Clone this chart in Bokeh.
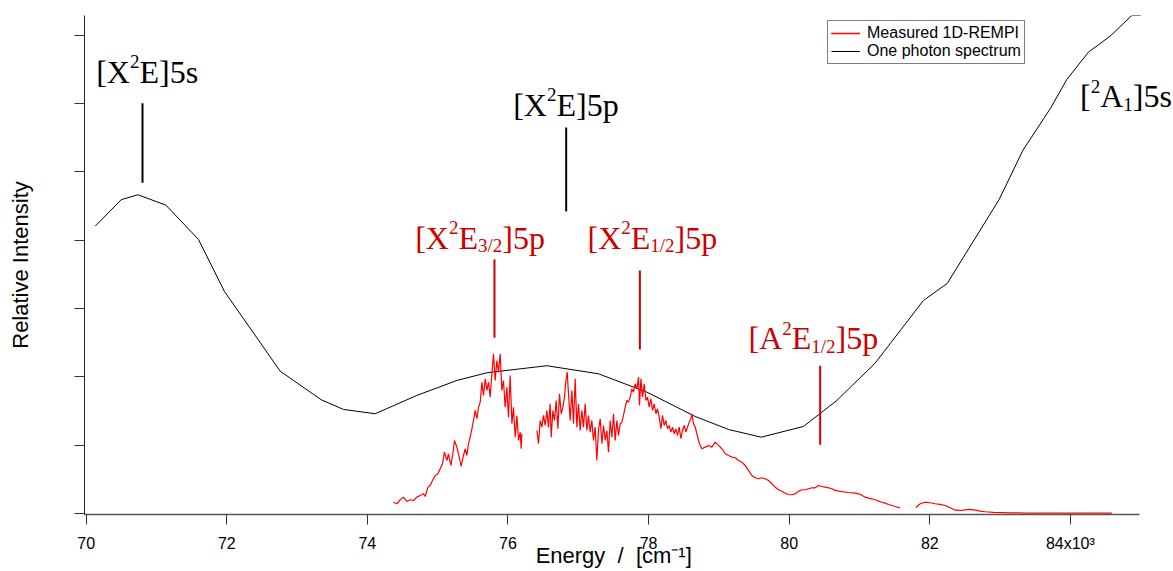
from bokeh.plotting import figure
from bokeh.models import Range1d, Label, Legend, LegendItem, FixedTicker, CustomJSTickFormatter
from bokeh.embed import file_html
from bokeh.resources import INLINE

# ---------------- data (energies in 10^3 cm^-1, intensity in arbitrary units) ----------------
photon_x = [70.128, 70.498, 70.735, 71.134, 71.597, 71.967, 72.760, 73.343, 73.660, 74.111,
            74.704, 75.273, 75.700, 76.553, 77.287, 77.976, 78.663, 79.137, 79.602, 80.203,
            80.678, 81.223, 81.910, 82.248, 82.987, 83.324, 83.722, 83.950, 84.257, 84.566,
            84.875, 85.000]
photon_y = [4.206, 4.593, 4.666, 4.514, 4.012, 3.250, 2.083, 1.665, 1.523, 1.460,
            1.728, 1.947, 2.060, 2.163, 2.045, 1.776, 1.420, 1.230, 1.117, 1.274,
            1.654, 2.201, 3.119, 3.367, 4.597, 5.315, 5.940, 6.354, 6.754, 6.988,
            7.291, 7.291]

rempi1_x = [74.371, 74.420, 74.467, 74.514, 74.562, 74.609, 74.656, 74.704, 74.751, 74.798,
            74.822, 74.861, 74.893, 74.926, 74.965, 75.003, 75.036, 75.068, 75.097, 75.131,
            75.154, 75.188, 75.216, 75.239, 75.273, 75.306, 75.334, 75.367, 75.391, 75.415,
            75.438, 75.462, 75.487, 75.509, 75.534, 75.558, 75.581, 75.605, 75.629, 75.652,
            75.676, 75.700, 75.723, 75.747, 75.771, 75.794, 75.818, 75.842, 75.865, 75.889,
            75.913, 75.936, 75.960, 75.984, 76.007, 76.031, 76.056, 76.078, 76.103, 76.127,
            76.150, 76.174, 76.188, 76.198]
rempi1_y = [0.165, 0.142, 0.201, 0.239, 0.176, 0.201, 0.190, 0.239, 0.264, 0.288,
            0.249, 0.385, 0.410, 0.483, 0.556, 0.581, 0.654, 0.728, 0.897, 0.776,
            0.874, 0.703, 0.874, 1.069, 0.971, 0.824, 0.688, 0.849, 0.947, 0.849,
            1.020, 1.117, 1.240, 1.362, 1.508, 1.387, 1.556, 1.630, 1.922, 1.728,
            1.972, 1.801, 1.922, 1.703, 2.045, 2.338, 1.947, 2.240, 2.069, 2.338,
            1.801, 1.947, 1.556, 1.849, 1.410, 2.020, 1.313, 1.556, 1.117, 1.435,
            1.069, 1.190, 0.947, 1.167]

rempi2_x = [76.411, 76.434, 76.458, 76.482, 76.505, 76.529, 76.553, 76.576, 76.600, 76.615,
            76.639, 76.662, 76.686, 76.710, 76.733, 76.757, 76.781, 76.804, 76.824, 76.842,
            76.861, 76.885, 76.909, 76.932, 76.956, 76.980, 77.003, 77.027, 77.051, 77.074,
            77.098, 77.122, 77.145, 77.169, 77.193, 77.216, 77.240, 77.264, 77.287, 77.312,
            77.336, 77.359, 77.383, 77.407, 77.430, 77.454, 77.478, 77.501, 77.525, 77.549,
            77.572, 77.596, 77.620, 77.643, 77.667, 77.691, 77.714, 77.738, 77.762, 77.785,
            77.809, 77.834, 77.857, 77.871, 77.891, 77.914, 77.938, 77.962, 77.985, 78.009,
            78.033, 78.056, 78.080, 78.104, 78.127, 78.151, 78.175, 78.198, 78.222, 78.246,
            78.269, 78.293, 78.317, 78.340, 78.364, 78.388, 78.411, 78.435, 78.460, 78.482,
            78.507, 78.531, 78.554, 78.578, 78.602, 78.616, 78.639, 78.663, 78.687, 78.724,
            78.758, 78.805, 78.852, 78.901, 78.947, 78.995, 79.043, 79.090, 79.137, 79.185,
            79.232, 79.279, 79.327, 79.374, 79.421, 79.469, 79.516, 79.563, 79.612, 79.659,
            79.706, 79.754, 79.801, 79.848, 79.896, 79.943, 79.990, 80.039, 80.086, 80.133,
            80.181, 80.228, 80.275, 80.323, 80.370, 80.417, 80.465, 80.512, 80.559, 80.608,
            80.655, 80.702, 80.750, 80.797, 80.844, 80.892, 80.939, 80.986, 81.034, 81.081,
            81.128, 81.177, 81.224, 81.271, 81.319, 81.366, 81.413, 81.461, 81.508, 81.579]
rempi2_y = [1.215, 1.020, 1.362, 1.264, 1.435, 1.288, 1.508, 1.264, 1.606, 1.117,
            1.508, 1.362, 1.654, 1.240, 1.753, 1.460, 1.556, 1.703, 1.947, 2.069,
            1.753, 1.362, 1.801, 1.313, 1.972, 1.264, 1.606, 1.215, 1.508, 1.264,
            1.606, 1.215, 1.435, 1.190, 1.362, 1.069, 1.264, 0.776, 1.215, 1.387,
            1.020, 1.288, 1.069, 1.215, 0.897, 1.362, 1.117, 1.460, 1.069, 1.362,
            1.142, 1.313, 1.337, 1.435, 1.556, 1.654, 1.630, 1.703, 1.826, 1.776,
            1.899, 1.826, 1.996, 1.581, 1.972, 1.703, 1.899, 1.654, 1.703, 1.556,
            1.679, 1.508, 1.606, 1.460, 1.533, 1.410, 1.240, 1.435, 1.288, 1.362,
            1.240, 1.288, 1.190, 1.264, 1.167, 1.240, 1.142, 1.264, 1.094, 1.215,
            1.288, 1.190, 1.264, 1.337, 1.387, 1.460, 1.313, 1.264, 1.167, 1.020,
            0.947, 0.971, 0.996, 0.971, 1.044, 0.996, 0.947, 0.874, 0.849, 0.824,
            0.816, 0.776, 0.751, 0.703, 0.630, 0.556, 0.523, 0.508, 0.523, 0.508,
            0.483, 0.435, 0.385, 0.347, 0.326, 0.297, 0.278, 0.274, 0.288, 0.326,
            0.347, 0.347, 0.362, 0.376, 0.376, 0.410, 0.395, 0.385, 0.376, 0.362,
            0.337, 0.326, 0.322, 0.312, 0.307, 0.303, 0.297, 0.288, 0.268, 0.239,
            0.224, 0.215, 0.201, 0.180, 0.165, 0.151, 0.132, 0.117, 0.102, 0.083]

rempi3_x = [81.802, 81.864, 81.935, 82.006, 82.077, 82.148, 82.219, 82.291, 82.362, 82.433,
            82.504, 82.575, 82.646, 82.717, 82.788, 82.906, 83.144, 83.381, 83.618, 83.855,
            84.093, 84.329, 84.591]
rempi3_y = [0.088, 0.142, 0.165, 0.157, 0.142, 0.132, 0.117, 0.083, 0.048, 0.044,
            0.054, 0.059, 0.048, 0.034, 0.025, 0.015, 0.010, 0.006, 0.006, 0.005,
            0.004, 0.004, 0.004]

# assignment markers
marker_x = [70.801, 76.828, 75.808, 77.876, 80.441]
marker_y0 = [4.842, 4.422, 2.573, 2.401, 1.006]
marker_y1 = [6.007, 5.652, 3.719, 3.558, 2.163]
marker_color = ["#000000", "#000000", "#cc0000", "#cc0000", "#cc0000"]

# assignment labels: anchor (left, baseline) and pieces
label_x = [70.142, 76.074, 84.137, 74.680, 77.131, 79.421]
label_y = [6.310, 5.827, 5.950, 3.880, 3.880, 2.411]
label_color = ["#000000", "#000000", "#000000", "#cc0000", "#cc0000", "#cc0000"]
label_parts = [
    [("[X", "n"), ("2", "sup"), ("E]5s", "n")],
    [("[X", "n"), ("2", "sup"), ("E]5p", "n")],
    [("[", "n"), ("2", "sup"), ("A", "n"), ("1", "sub"), ("]5s", "n")],
    [("[X", "n"), ("2", "sup"), ("E", "n"), ("3/2", "sub"), ("]5p", "n")],
    [("[X", "n"), ("2", "sup"), ("E", "n"), ("1/2", "sub"), ("]5p", "n")],
    [("[A", "n"), ("2", "sup"), ("E", "n"), ("1/2", "sub"), ("]5p", "n")],
]

x_ticks = [70, 72, 74, 76, 78, 80, 82, 84]
y_ticks = [0, 1, 2, 3, 4, 5, 6, 7]
x_axis_extent = (69.976, 84.98)

# ---------------- figure ----------------
p = figure(width=1173, height=571, output_backend="svg", toolbar_location=None,
           x_range=Range1d(69.976, 85.467), y_range=Range1d(-0.015, 7.29),
           min_border_left=84, min_border_right=0, min_border_top=15, min_border_bottom=57,
           background_fill_color="white", border_fill_color="white", outline_line_color=None)
p.xgrid.visible = False
p.ygrid.visible = False

rb = p.line(photon_x, photon_y, line_color="black", line_width=1)
r1 = p.line(rempi1_x, rempi1_y, line_color="#ff0000", line_width=1.2)
r2 = p.line(rempi2_x, rempi2_y, line_color="#ff0000", line_width=1.2)
r3 = p.line(rempi3_x, rempi3_y, line_color="#ff0000", line_width=1.2)

p.segment(x0=marker_x, y0=marker_y0, x1=marker_x, y1=marker_y1,
          line_color=marker_color, line_width=2)

# axes
NB = "\u00a0"
xa = p.xaxis[0]
xa.bounds = x_axis_extent
xa.ticker = FixedTicker(ticks=x_ticks)
xa.major_label_overrides = {84: "84x10\u00b3"}
# trailing no-break spaces centre the title over the drawn axis (frame extends to the right)
xa.axis_label = "Energy" + NB * 2 + "/" + NB * 2 + "[cm\u207b\u00b9]" + NB * 5
xa.axis_label_text_font = "Liberation Sans"
xa.axis_label_text_font_size = "22px"
xa.axis_label_text_font_style = "normal"
xa.axis_label_text_color = "black"
xa.axis_label_standoff = -12
xa.major_label_text_font = "Liberation Sans"
xa.major_label_text_font_size = "16px"
xa.major_label_text_color = "black"
xa.major_label_standoff = 10
xa.major_tick_out = 10
xa.major_tick_in = 0
xa.minor_tick_out = 0
xa.minor_tick_in = 0
xa.axis_line_color = "#555555"
xa.axis_line_width = 1.5
xa.major_tick_line_color = "#333333"

ya = p.yaxis[0]
ya.ticker = FixedTicker(ticks=y_ticks)
ya.formatter = CustomJSTickFormatter(code="return ''")
ya.major_label_standoff = 0
ya.axis_label = "Relative Intensity"
ya.axis_label_text_font = "Liberation Sans"
ya.axis_label_text_font_size = "22px"
ya.axis_label_text_font_style = "normal"
ya.axis_label_text_color = "black"
ya.axis_label_standoff = 42
ya.major_tick_out = 10
ya.major_tick_in = 0
ya.minor_tick_out = 0
ya.minor_tick_in = 0
ya.axis_line_color = "#222222"
ya.major_tick_line_color = "#333333"

# legend
legend = Legend(items=[LegendItem(label="Measured 1D-REMPI", renderers=[r1, r2, r3]),
                       LegendItem(label="One photon spectrum", renderers=[rb])],
                location=(743, 450), orientation="vertical",
                border_line_color="black", border_line_width=1,
                background_fill_color="white", background_fill_alpha=1,
                label_text_font="Liberation Sans", label_text_font_size="16px",
                label_text_color="black", glyph_width=29, glyph_height=16,
                label_height=16, label_standoff=7, spacing=-4, padding=3, margin=0)
p.add_layout(legend)

# assignment labels built from pieces (Times metrics for advance widths)
TIMES_W = {"[": 0.333, "]": 0.333, "X": 0.722, "E": 0.611, "A": 0.722, "5": 0.5,
           "s": 0.389, "p": 0.5, "1": 0.5, "2": 0.5, "3": 0.5, "/": 0.278}
MAIN_SIZE = 32
SMALL_SIZE = 19
BASELINE_FIX = 0.34  # em; lifts the text so its alphabetic baseline sits on the anchor
for lx, ly, col, parts in zip(label_x, label_y, label_color, label_parts):
    dx = 0.0
    for txt, kind in parts:
        size = MAIN_SIZE if kind == "n" else SMALL_SIZE
        dy = {"n": 0, "sup": 14, "sub": -4}[kind] + BASELINE_FIX * size
        p.add_layout(Label(x=lx, y=ly, x_offset=dx, y_offset=dy, text=txt,
                           text_font="Liberation Serif", text_font_size=f"{size}px",
                           text_color=col, text_baseline="alphabetic", text_align="left"))
        dx += sum(TIMES_W[c] for c in txt) * size

open("out.html", "w").write(file_html(p, INLINE))
